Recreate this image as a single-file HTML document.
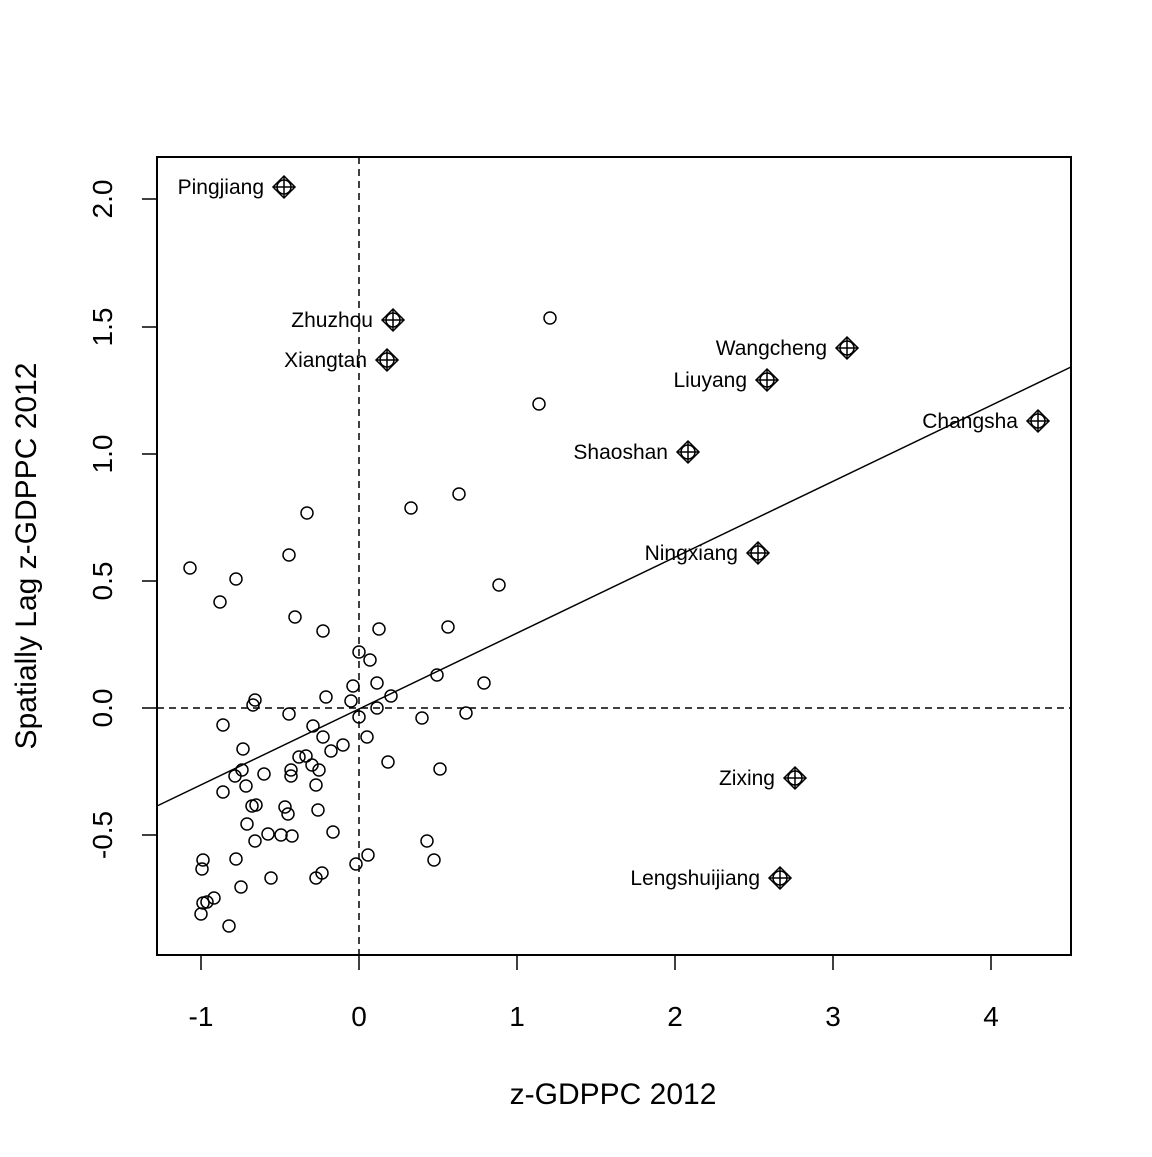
<!DOCTYPE html>
<html><head><meta charset="utf-8"><style>html,body{margin:0;padding:0;background:#fff}</style></head>
<body>
<svg width="1152" height="1152" viewBox="0 0 1152 1152" xmlns="http://www.w3.org/2000/svg" font-family="Liberation Sans, Arial, sans-serif">
<rect width="1152" height="1152" fill="#fff"/>
<rect x="157" y="157" width="914" height="798" fill="none" stroke="#000" stroke-width="2"/>
<g stroke="#000" stroke-width="1.5">
<line x1="201" y1="955" x2="201" y2="970"/><line x1="359" y1="955" x2="359" y2="970"/><line x1="517" y1="955" x2="517" y2="970"/><line x1="675" y1="955" x2="675" y2="970"/><line x1="833" y1="955" x2="833" y2="970"/><line x1="991" y1="955" x2="991" y2="970"/>
<line x1="142" y1="199" x2="157" y2="199"/><line x1="142" y1="327" x2="157" y2="327"/><line x1="142" y1="454" x2="157" y2="454"/><line x1="142" y1="581" x2="157" y2="581"/><line x1="142" y1="708" x2="157" y2="708"/><line x1="142" y1="835" x2="157" y2="835"/>
</g>
<g font-size="28" text-anchor="middle" fill="#000">
<text x="201" y="1026">-1</text><text x="359" y="1026">0</text><text x="517" y="1026">1</text><text x="675" y="1026">2</text><text x="833" y="1026">3</text><text x="991" y="1026">4</text>
<text transform="translate(112,199) rotate(-90)">2.0</text>
<text transform="translate(112,327) rotate(-90)">1.5</text>
<text transform="translate(112,454) rotate(-90)">1.0</text>
<text transform="translate(112,581) rotate(-90)">0.5</text>
<text transform="translate(112,708) rotate(-90)">0.0</text>
<text transform="translate(112,835) rotate(-90)">-0.5</text>
<text x="613" y="1104" font-size="30">z-GDPPC 2012</text>
<text transform="translate(36,556) rotate(-90)" font-size="30">Spatially Lag z-GDPPC 2012</text>
</g>
<g stroke="#000" stroke-width="1.5" stroke-dasharray="7,5">
<line x1="359" y1="157" x2="359" y2="955"/><line x1="157" y1="708" x2="1071" y2="708"/>
</g>
<line x1="157" y1="806" x2="1071" y2="367" stroke="#000" stroke-width="1.5"/>
<g fill="none" stroke="#000" stroke-width="1.5">
<circle cx="190" cy="568" r="6"/><circle cx="236" cy="579" r="6"/><circle cx="220" cy="602" r="6"/><circle cx="289" cy="555" r="6"/><circle cx="307" cy="513" r="6"/><circle cx="295" cy="617" r="6"/><circle cx="323" cy="631" r="6"/><circle cx="255" cy="700" r="6"/><circle cx="253" cy="705" r="6"/><circle cx="289" cy="714" r="6"/><circle cx="223" cy="725" r="6"/><circle cx="243" cy="749" r="6"/><circle cx="242" cy="770" r="6"/><circle cx="235" cy="776" r="6"/><circle cx="246" cy="786" r="6"/><circle cx="223" cy="792" r="6"/><circle cx="264" cy="774" r="6"/><circle cx="252" cy="806" r="6"/><circle cx="256" cy="805" r="6"/><circle cx="247" cy="824" r="6"/><circle cx="285" cy="807" r="6"/><circle cx="288" cy="814" r="6"/><circle cx="268" cy="834" r="6"/><circle cx="281" cy="835" r="6"/><circle cx="292" cy="836" r="6"/><circle cx="255" cy="841" r="6"/><circle cx="236" cy="859" r="6"/><circle cx="203" cy="860" r="6"/><circle cx="202" cy="869" r="6"/><circle cx="271" cy="878" r="6"/><circle cx="241" cy="887" r="6"/><circle cx="214" cy="898" r="6"/><circle cx="207" cy="902" r="6"/><circle cx="203" cy="903" r="6"/><circle cx="229" cy="926" r="6"/><circle cx="201" cy="914" r="6"/><circle cx="299" cy="757" r="6"/><circle cx="306" cy="756" r="6"/><circle cx="313" cy="726" r="6"/><circle cx="312" cy="765" r="6"/><circle cx="319" cy="770" r="6"/><circle cx="323" cy="737" r="6"/><circle cx="316" cy="785" r="6"/><circle cx="318" cy="810" r="6"/><circle cx="333" cy="832" r="6"/><circle cx="322" cy="873" r="6"/><circle cx="316" cy="878" r="6"/><circle cx="326" cy="697" r="6"/><circle cx="331" cy="751" r="6"/><circle cx="343" cy="745" r="6"/><circle cx="353" cy="686" r="6"/><circle cx="351" cy="701" r="6"/><circle cx="359" cy="652" r="6"/><circle cx="359" cy="717" r="6"/><circle cx="370" cy="660" r="6"/><circle cx="377" cy="683" r="6"/><circle cx="379" cy="629" r="6"/><circle cx="377" cy="708" r="6"/><circle cx="367" cy="737" r="6"/><circle cx="391" cy="696" r="6"/><circle cx="388" cy="762" r="6"/><circle cx="356" cy="864" r="6"/><circle cx="368" cy="855" r="6"/><circle cx="422" cy="718" r="6"/><circle cx="427" cy="841" r="6"/><circle cx="434" cy="860" r="6"/><circle cx="437" cy="675" r="6"/><circle cx="440" cy="769" r="6"/><circle cx="448" cy="627" r="6"/><circle cx="466" cy="713" r="6"/><circle cx="459" cy="494" r="6"/><circle cx="484" cy="683" r="6"/><circle cx="499" cy="585" r="6"/><circle cx="411" cy="508" r="6"/><circle cx="539" cy="404" r="6"/><circle cx="550" cy="318" r="6"/><circle cx="291" cy="770" r="6"/><circle cx="291" cy="776" r="6"/>
</g>
<defs>
<g id="d" fill="none" stroke="#000" stroke-width="1.5">
<polygon points="0,-11 11,0 0,11 -11,0"/><circle r="7"/><line x1="-11" y1="0" x2="11" y2="0"/><line x1="0" y1="-11" x2="0" y2="11"/>
</g>
</defs>
<use href="#d" x="284" y="187"/><use href="#d" x="393" y="320"/><use href="#d" x="387" y="360"/><use href="#d" x="847" y="348"/><use href="#d" x="767" y="380"/><use href="#d" x="1038" y="421"/><use href="#d" x="688" y="452"/><use href="#d" x="758" y="553"/><use href="#d" x="795" y="778"/><use href="#d" x="780" y="878"/>
<g font-size="21" text-anchor="end" fill="#000">
<text x="264" y="194">Pingjiang</text><text x="373" y="327">Zhuzhou</text><text x="367" y="367">Xiangtan</text><text x="827" y="355">Wangcheng</text><text x="747" y="387">Liuyang</text><text x="1018" y="428">Changsha</text><text x="668" y="459">Shaoshan</text><text x="738" y="560">Ningxiang</text><text x="775" y="785">Zixing</text><text x="760" y="885">Lengshuijiang</text>
</g>
</svg>
</body></html>
